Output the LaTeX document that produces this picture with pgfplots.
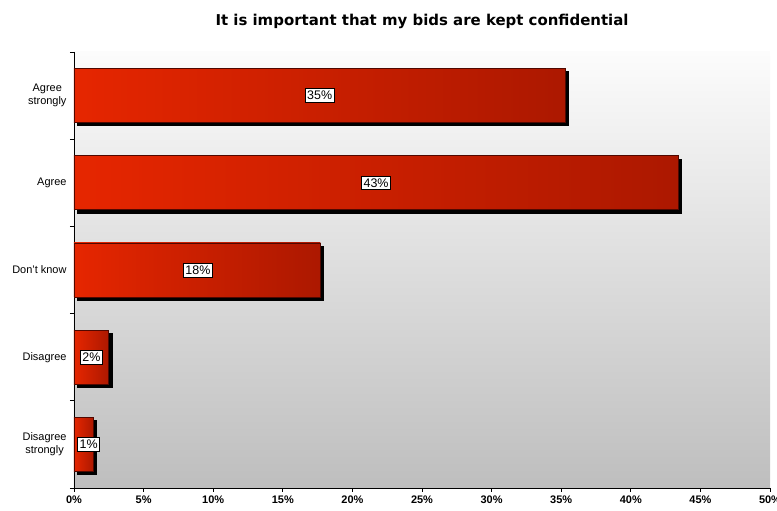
\documentclass[border=0pt]{standalone}
\usepackage{pgfplots}
\pgfplotsset{compat=1.18}
\usepackage{pgfplotstable}
\usepackage{fontspec}
\setmainfont{Liberation Sans}
\newfontfamily\titlefont{DejaVu Sans}
\usetikzlibrary{calc}
\definecolor{barL}{RGB}{230,38,0}
\definecolor{barR}{RGB}{172,24,0}
\definecolor{barD}{RGB}{80,8,0}
\definecolor{bgbot}{RGB}{190,190,190}
\definecolor{bgtop}{RGB}{252,252,252}

\pgfplotstableread{
y lx lab
0 17.65 35
1 21.7 43
2 8.9 18
3 1.25 2
4 1.05 1
}\labels

\begin{document}
\begin{tikzpicture}
\begin{axis}[
  name=ax,
  scale only axis, width=696bp, height=436bp,
  xmin=0, xmax=50, ymin=-0.5, ymax=4.5, y dir=reverse,
  axis lines=left, axis line style={-, line width=0.8bp},
  axis background/.style={top color=bgtop, bottom color=bgbot},
  bar width=54bp,
  xtick={0,5,...,50},
  xticklabels={0\%,5\%,10\%,15\%,20\%,25\%,30\%,35\%,40\%,45\%,50\%},
  xticklabel style={font=\bfseries\fontsize{11}{13}\selectfont},
  ytick={0,1,2,3,4},
  yticklabels={{Agree\\strongly},Agree,Don't know,Disagree,{Disagree\\strongly}},
  yticklabel style={align=center, font=\fontsize{11}{13}\selectfont},
  major y tick style={draw=none},
  minor ytick={-0.5,0.5,1.5,2.5,3.5,4.5},
  minor y tick style={draw=black, line width=0.8bp},
  major x tick style={draw=black, line width=0.8bp},
  tick align=outside,
  major tick length=4bp, minor tick length=4bp,
  clip=false,
]
% shadows
\addplot[xbar, fill=black, draw=black, xshift=3bp, yshift=-3bp] coordinates {(35.3,0)};
\addplot[xbar, fill=black, draw=black, xshift=3bp, yshift=-3bp] coordinates {(43.4,1)};
\addplot[xbar, fill=black, draw=black, xshift=3bp, yshift=-3bp] coordinates {(17.7,2)};
\addplot[xbar, fill=black, draw=black, xshift=3bp, yshift=-3bp] coordinates {(2.5,3)};
\addplot[xbar, fill=black, draw=black, xshift=3bp, yshift=-3bp] coordinates {(1.4,4)};
% bars
\addplot[xbar, left color=barL, right color=barR, draw=barD, line width=0.8bp] coordinates {(35.3,0)};
\addplot[xbar, left color=barL, right color=barR, draw=barD, line width=0.8bp] coordinates {(43.4,1)};
\addplot[xbar, left color=barL, right color=barR, draw=barD, line width=0.8bp] coordinates {(17.7,2)};
\addplot[xbar, left color=barL, right color=barR, draw=barD, line width=0.8bp] coordinates {(2.5,3)};
\addplot[xbar, left color=barL, right color=barR, draw=barD, line width=0.8bp] coordinates {(1.4,4)};
% labels
\addplot[draw=none, mark=none, nodes near coords={\fontsize{12.5}{14}\selectfont\pgfplotspointmeta\%},
  point meta=explicit symbolic,
  nodes near coords style={anchor=center, fill=white, draw=black, line width=0.7bp,
    inner xsep=2.2bp, inner ysep=2.5bp}]
  table[x=lx, y=y, meta=lab] {\labels};
\end{axis}
\node[font=\titlefont\bfseries\fontsize{15}{18}\selectfont] at ($(ax.north)+(0,31bp)$)
  {It is important that my bids are kept confidential};
\pgfresetboundingbox
\useasboundingbox ($(ax.south west)+(-74bp,-23bp)$) rectangle ($(ax.north east)+(7bp,52bp)$);
\end{tikzpicture}
\end{document}
